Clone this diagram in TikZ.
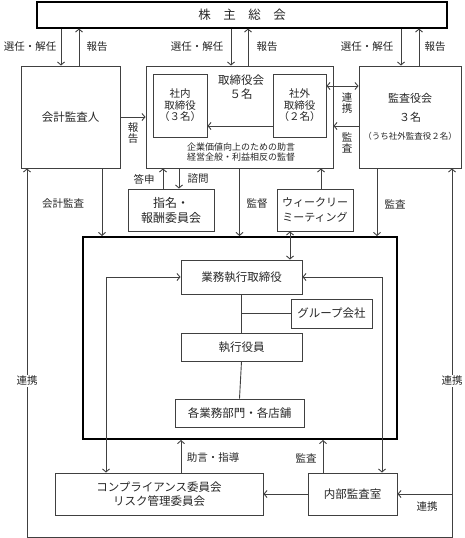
\documentclass[tikz,border=0pt]{standalone}
\usepackage{fontspec}
\setmainfont{Noto Sans CJK JP}
\usetikzlibrary{arrows.meta}
\tikzset{
	box/.style={draw=black!75,line width=0.9pt,inner sep=0pt,align=center,font=\fontsize{11.5}{14}\selectfont},
	bigbox/.style={draw=black,line width=2pt,inner sep=0pt},
	lbl/.style={inner sep=1pt,align=center,font=\fontsize{10.5}{11}\selectfont},
	line/.style={draw=black!75,line width=0.9pt},
	>={Straight Barb[length=3pt,width=7pt]}
}
\begin{document}
\begin{tikzpicture}[x=1pt,y=-1pt,text=black!85]
	\useasboundingbox (0,0) rectangle (465,538);
	\node[bigbox,minimum width=410pt,minimum height=26pt,font=\fontsize{12.5}{14}\selectfont] (soukai) at (242,14.5) {株　主　総　会};
	\node[box,minimum width=99pt,minimum height=102pt] (kaikei) at (70.5,117) {会計監査人};
	\node[box,minimum width=187pt,minimum height=102pt] (tori) at (239.5,117) {};
	\node[box,minimum width=54pt,minimum height=63pt,font=\fontsize{10.5}{11.5}\selectfont] (shanai) at (180,105.5) {社内\\取締役\\（３名）};
	\node[box,minimum width=53pt,minimum height=63pt,font=\fontsize{10.5}{11.5}\selectfont] (shagai) at (299.5,105.5) {社外\\取締役\\（２名）};
	\node[lbl,font=\fontsize{11.5}{14}\selectfont] (torititle) at (241,87) {取締役会\\５名};
	\node[lbl,font=\fontsize{9}{10.5}\selectfont] (torinote) at (241,152) {企業価値向上のための助言\\経営全般・利益相反の監督};
	\node[box,minimum width=102pt,minimum height=102pt,font=\fontsize{11}{13}\selectfont] (kansa) at (410,117) {監査役会\\[6pt]３名\\[5pt]{\fontsize{8.5}{10}\selectfont （うち社外監査役２名）}};
	\node[box,minimum width=86pt,minimum height=42pt,font=\fontsize{12}{15}\selectfont] (shimei) at (171,210) {指名・\\報酬委員会};
	\node[box,minimum width=76pt,minimum height=42pt,font=\fontsize{11}{15}\selectfont] (weekly) at (315,210) {ウィークリー\\ミーティング};
	\node[bigbox,minimum width=314pt,minimum height=202pt] (big) at (240,338) {};
	\node[box,minimum width=121pt,minimum height=34pt] (gyomu) at (241.5,277) {業務執行取締役};
	\node[box,minimum width=81pt,minimum height=29pt] (group) at (331.5,313.5) {グループ会社};
	\node[box,minimum width=121pt,minimum height=28pt] (shikko) at (241.5,347) {執行役員};
	\node[box,minimum width=129pt,minimum height=28pt] (kaku) at (239.5,413) {各業務部門・各店舗};
	\node[box,minimum width=208pt,minimum height=42pt] (comp) at (159,494) {コンプライアンス委員会\\リスク管理委員会};
	\node[box,minimum width=89pt,minimum height=42pt] (naibu) at (352.5,494) {内部監査室};
	\coordinate (loopL) at (27,537);
	\coordinate (loopR) at (452,537);

	\draw[line,->] ([xshift=-9.5pt]kaikei.north |- soukai.south) -- ([xshift=-9.5pt]kaikei.north);
	\draw[line,->] ([xshift=8.5pt]kaikei.north) -- ([xshift=8.5pt]kaikei.north |- soukai.south);
	\draw[line,->] ([xshift=-8.5pt]tori.north |- soukai.south) -- ([xshift=-8.5pt]tori.north);
	\draw[line,->] ([xshift=8.5pt]tori.north) -- ([xshift=8.5pt]tori.north |- soukai.south);
	\draw[line,->] ([xshift=-9pt]kansa.north |- soukai.south) -- ([xshift=-9pt]kansa.north);
	\draw[line,->] ([xshift=9pt]kansa.north) -- ([xshift=9pt]kansa.north |- soukai.south);
	\node[lbl] (l1) at (30,47) {選任・解任};
	\node[lbl] (l2) at (97,47) {報告};
	\node[lbl] (l3) at (197,47) {選任・解任};
	\node[lbl] (l4) at (267,47) {報告};
	\node[lbl] (l5) at (367,47) {選任・解任};
	\node[lbl] (l6) at (435,47) {報告};

	\draw[line,->] (kaikei.east) -- (tori.west);
	\node[lbl] (l7) at (133,133) {報\\告};
	\draw[line,->] ([yshift=-20.5pt]shagai.west) -- ([yshift=-20.5pt]shanai.east);
	\draw[line,<->] ([yshift=19.5pt]shagai.east) -- ([yshift=19.5pt]shagai.east -| kansa.west);
	\node[lbl] (l8) at (347,103) {連\\携};
	\draw[line,->] ([yshift=-9pt]kansa.west) -- ([yshift=-9pt]kansa.west -| tori.east);
	\node[lbl] (l9) at (347,143) {監\\査};

	\draw[line,->] ([xshift=-8pt]shimei.north) -- ([xshift=-8pt]shimei.north |- tori.south);
	\draw[line,->] ([xshift=8pt]shimei.north |- tori.south) -- ([xshift=8pt]shimei.north);
	\node[lbl] (l10) at (144,179) {答申};
	\node[lbl] (l11) at (198,179) {諮問};
	\draw[line,->] (tori.south) -- (tori.south |- big.north);
	\node[lbl] (l12) at (257,204) {監督};
	\draw[line,->] ([xshift=6pt]weekly.north) -- ([xshift=6pt]weekly.north |- tori.south);
	\draw[line,<->] ([xshift=-25pt]weekly.south) -- ([xshift=-25pt]weekly.south |- gyomu.north);
	\draw[line,->] ([xshift=31.5pt]kaikei.south) -- ([xshift=31.5pt]kaikei.south |- big.north);
	\node[lbl] (l13) at (63,204) {会計監査};
	\draw[line,->] ([xshift=-33pt]kansa.south) -- ([xshift=-33pt]kansa.south |- big.north);
	\node[lbl] (l14) at (395,204) {監査};

	\draw[line] (gyomu.south) -- (shikko.north);
	\draw[line] (gyomu.south |- group.west) -- (group.west);
	\draw[line] (shikko.south) -- (kaku.north);
	\draw[line,<->] (gyomu.west) -| ([xshift=-53pt]comp.north);
	\draw[line,<->] (gyomu.east) -| ([xshift=29.5pt]naibu.north);

	\draw[line,->] ([xshift=22pt]comp.north) -- ([xshift=22pt]comp.north |- big.south);
	\node[lbl] (l15) at (213,458) {助言・指導};
	\draw[line,->] ([xshift=-29.5pt]naibu.north) -- ([xshift=-29.5pt]naibu.north |- big.south);
	\node[lbl] (l16) at (306,458) {監査};
	\draw[line,->] (naibu.west) -- (comp.east);

	\draw[line,<->] ([xshift=-43.5pt]kaikei.south) -- (loopL) -- (loopR) -- ([xshift=42pt]kansa.south);
	\draw[line,->] (loopR |- naibu.east) -- (naibu.east);
	\node[lbl,fill=white] (l17) at (27,381) {連携};
	\node[lbl,fill=white] (l18) at (452,381) {連携};
	\node[lbl] (l19) at (427,507) {連携};
\end{tikzpicture}
\end{document}
